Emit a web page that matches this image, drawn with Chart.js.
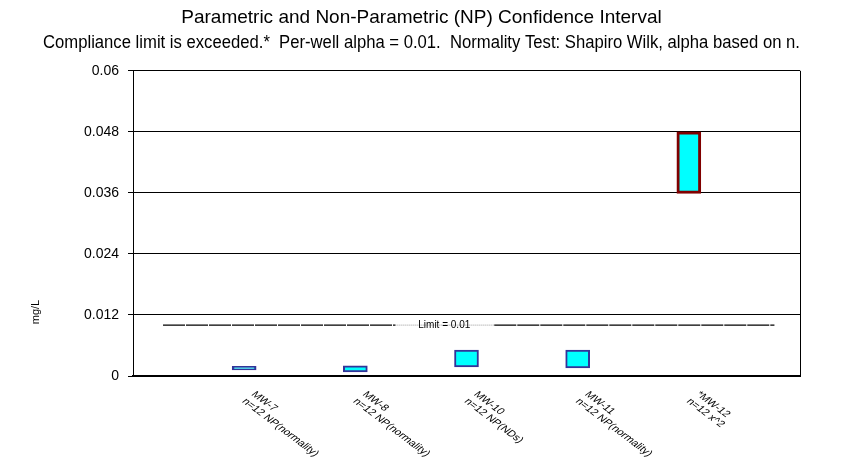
<!DOCTYPE html>
<html>
<head>
<meta charset="utf-8">
<script src="https://cdn.jsdelivr.net/npm/chart.js@4.4.0/dist/chart.umd.min.js"></script>
<style>
  html, body { margin: 0; padding: 0; background: #fff; }
  #wrap { width: 843px; height: 470px; position: relative; }
</style>
</head>
<body>
<div id="wrap"><canvas id="ci-chart"></canvas></div>
<script>
// well names and the second line of each axis label
const wells = ["MW-7", "MW-8", "MW-10", "MW-11", "*MW-12"];
const wellNotes = ["n=12 NP(normality)", "n=12 NP(normality)", "n=12 NP(NDs)", "n=12 NP(normality)", "n=12 x^2"];
const wellPos = [1, 2, 3, 4, 5];

// confidence interval bounds (mg/L)
const lowerLimits = [0.0012, 0.0008, 0.0018, 0.0016, 0.0359];
const upperLimits = [0.0019, 0.0020, 0.0051, 0.0051, 0.0480];
const exceeded = [false, false, false, false, true];

// y axis ticks
const yTicks = [0, 0.012, 0.024, 0.036, 0.048, 0.06];

// compliance limit line
const limitValue = 0.01;
const limitStart = 0.27, limitEnd = 5.77;
const limitLabelAt = 2.8;
const limitGapFrom = 2.36, limitGapTo = 3.25;

const boxData = wellPos.map((x, i) => ({ x: x, y: [lowerLimits[i], upperLimits[i]] }));
const FONT = "'Liberation Sans', Arial, sans-serif";

// draw the slanted well labels, limit label, y title and plot border
const extras = {
    id: "extras",
    afterDraw(chart) {
        const ctx = chart.ctx;
        const xs = chart.scales.x;
        const ys = chart.scales.y;
        const area = chart.chartArea;
        ctx.save();

        // right border of the plot
        ctx.strokeStyle = "#000";
        ctx.lineWidth = 1;
        ctx.beginPath();
        ctx.moveTo(Math.round(area.right) + 0.5, area.top);
        ctx.lineTo(Math.round(area.right) + 0.5, area.bottom);
        ctx.stroke();

        // limit label
        ctx.fillStyle = "#000";
        ctx.font = "10px " + FONT;
        ctx.textAlign = "center";
        ctx.textBaseline = "middle";
        ctx.fillText("Limit = " + limitValue, xs.getPixelForValue(limitLabelAt), ys.getPixelForValue(limitValue));

        // well labels, slanted down to the right
        ctx.font = "9px " + FONT;
        ctx.textAlign = "left";
        wells.forEach((w, i) => {
            const px = xs.getPixelForValue(wellPos[i]);
            ctx.save();
            ctx.translate(px + 9, area.bottom + 17);
            ctx.scale(1.33, 1);
            ctx.rotate(Math.PI / 4);
            ctx.fillText(w, 0, 0);
            ctx.fillText(wellNotes[i], 0, 10);
            ctx.restore();
        });

        // y axis title
        ctx.save();
        ctx.font = "11px " + FONT;
        ctx.textAlign = "center";
        ctx.translate(36, area.bottom - 64);
        ctx.rotate(-Math.PI / 2);
        ctx.fillText("mg/L", 0, 0);
        ctx.restore();

        ctx.restore();
    }
};

const limitLine = (from, to, color, dash) => ({
    type: "line",
    data: [{ x: from, y: limitValue }, { x: to, y: limitValue }],
    borderColor: color,
    borderWidth: 1.2,
    borderDash: dash,
    pointRadius: 0,
    order: 2
});

new Chart(document.getElementById("ci-chart"), {
    type: "bar",
    data: {
        datasets: [
            limitLine(limitStart, limitGapFrom, "#000", [22, 1]),
            limitLine(limitGapTo, limitEnd, "#000", [22, 1]),
            limitLine(limitGapFrom, limitGapTo, "#aaa", [1, 1]),
            {
                type: "bar",
                data: boxData,
                backgroundColor: "#00ffff",
                borderColor: exceeded.map(e => e ? "#800000" : "#333399"),
                borderWidth: exceeded.map(e => e ? 3 : 2),
                borderSkipped: false,
                barThickness: 24,
                order: 1
            }
        ]
    },
    options: {
        responsive: true,
        maintainAspectRatio: false,
        animation: false,
        layout: { padding: { left: 43, right: 43, top: 0, bottom: 0 } },
        plugins: {
            legend: { display: false },
            tooltip: { enabled: false },
            title: {
                display: true,
                text: "Parametric and Non-Parametric (NP) Confidence Interval",
                color: "#000",
                font: { family: FONT, size: 19, weight: "normal" },
                padding: { top: 6, bottom: 4 }
            },
            subtitle: {
                display: true,
                text: "Compliance limit is exceeded.*  Per-well alpha = 0.01.  Normality Test: Shapiro Wilk, alpha based on n.",
                color: "#000",
                font: { family: FONT, size: 17.5 },
                padding: { top: 0, bottom: 17 }
            }
        },
        scales: {
            x: {
                type: "linear",
                min: 0,
                max: 6,
                offset: false,
                ticks: { display: false },
                grid: { display: false },
                border: { color: "#000", width: 2 },
                afterFit(scale) { scale.height = 94; }
            },
            y: {
                min: 0,
                max: 0.06,
                afterBuildTicks(scale) { scale.ticks = yTicks.map(v => ({ value: v })); },
                ticks: {
                    color: "#000",
                    padding: 9,
                    font: { family: FONT, size: 14 },
                    callback: v => String(parseFloat(v.toFixed(3)))
                },
                grid: { color: "#000", tickLength: 5, drawTicks: true },
                border: { color: "#000", width: 1 },
                afterFit(scale) { scale.width = 90; }
            }
        }
    },
    plugins: [extras]
});
</script>
</body>
</html>
